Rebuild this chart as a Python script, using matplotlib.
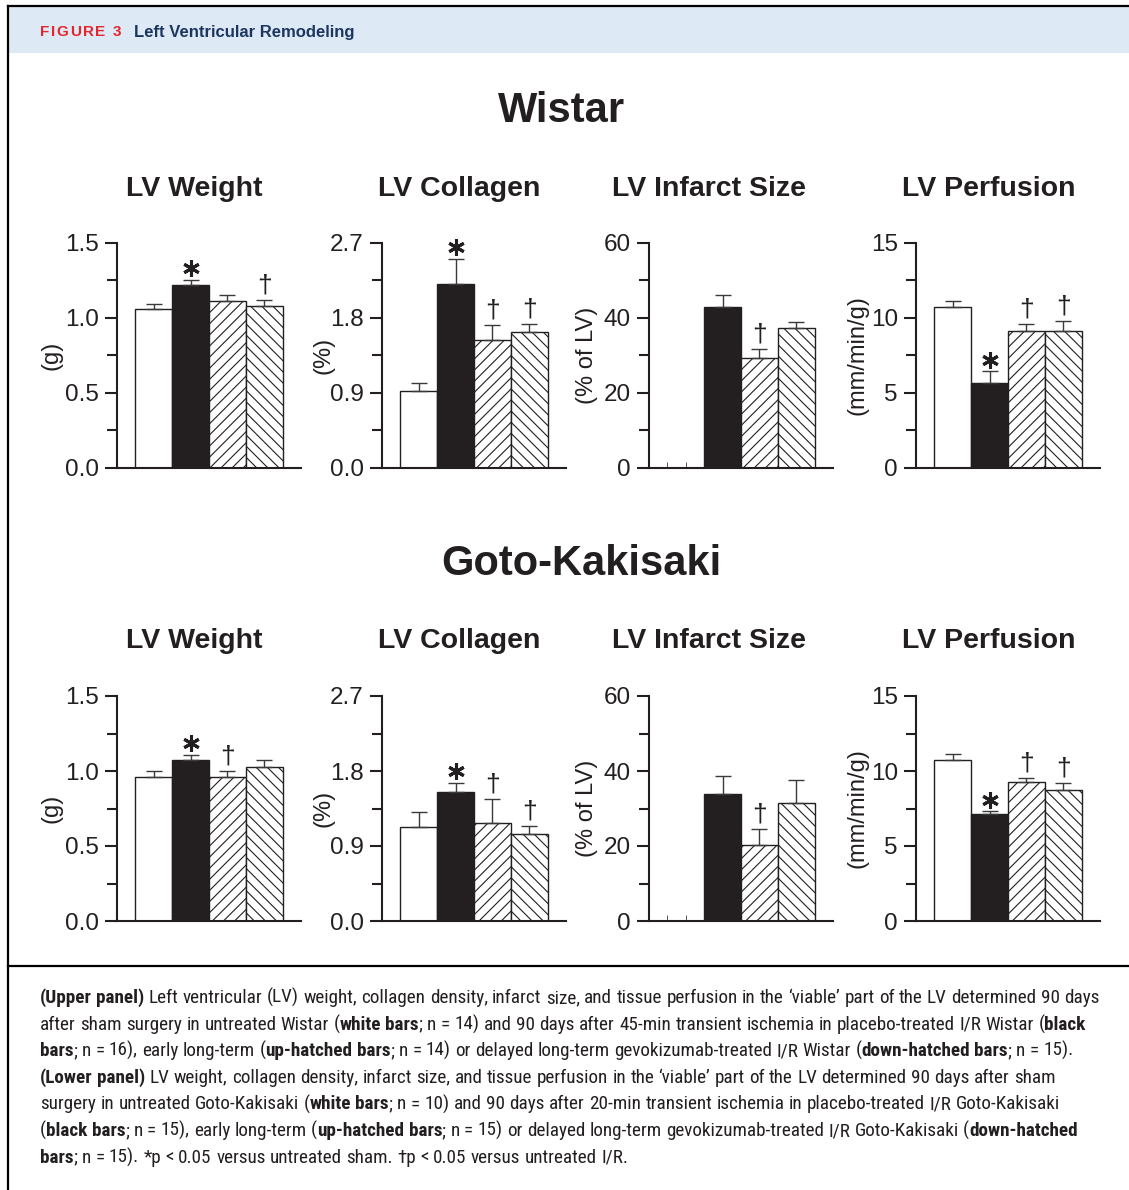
import numpy as np
import matplotlib
matplotlib.use("Agg")
import matplotlib.pyplot as plt
from matplotlib.transforms import ScaledTranslation
from matplotlib.lines import Line2D
from matplotlib.patches import Rectangle

# groups: sham, placebo I/R, early gevokizumab, delayed gevokizumab
groups = ["Sham", "I/R placebo", "I/R early", "I/R delayed"]
panels = ["LV Weight", "LV Collagen", "LV Infarct Size", "LV Perfusion"]
units = ["(g)", "(%)", "(% of LV)", "(mm/min/g)"]
strains = ["Wistar", "Goto-Kakisaki"]

yticks = [[0.0, 0.5, 1.0, 1.5], [0.0, 0.9, 1.8, 2.7], [0, 20, 40, 60], [0, 5, 10, 15]]
yticklabels = [["0.0", "0.5", "1.0", "1.5"], ["0.0", "0.9", "1.8", "2.7"],
               ["0", "20", "40", "60"], ["0", "5", "10", "15"]]

wistar_weight = [1.06, 1.22, 1.115, 1.08]
wistar_weight_err = [0.03, 0.035, 0.035, 0.04]
wistar_collagen = [0.92, 2.21, 1.53, 1.635]
wistar_collagen_err = [0.10, 0.30, 0.18, 0.09]
wistar_infarct = [np.nan, 42.8, 29.3, 37.3]
wistar_infarct_err = [np.nan, 3.3, 2.3, 1.7]
wistar_perfusion = [10.73, 5.67, 9.11, 9.11]
wistar_perfusion_err = [0.43, 0.78, 0.49, 0.71]
wistar_marks = [["", "*", "", "†"], ["", "*", "†", "†"], ["", "", "†", ""], ["", "*", "†", "†"]]

gk_weight = [0.958, 1.073, 0.958, 1.029]
gk_weight_err = [0.04, 0.035, 0.04, 0.045]
gk_collagen = [1.133, 1.544, 1.181, 1.045]
gk_collagen_err = [0.17, 0.115, 0.28, 0.10]
gk_infarct = [np.nan, 34.0, 20.2, 31.6]
gk_infarct_err = [np.nan, 4.8, 4.3, 5.9]
gk_perfusion = [10.72, 7.13, 9.24, 8.75]
gk_perfusion_err = [0.40, 0.18, 0.27, 0.45]
gk_marks = [["", "*", "†", ""], ["", "*", "†", "†"], ["", "", "†", ""], ["", "*", "†", "†"]]

values = [[wistar_weight, wistar_collagen, wistar_infarct, wistar_perfusion],
          [gk_weight, gk_collagen, gk_infarct, gk_perfusion]]
errors = [[wistar_weight_err, wistar_collagen_err, wistar_infarct_err, wistar_perfusion_err],
          [gk_weight_err, gk_collagen_err, gk_infarct_err, gk_perfusion_err]]
marks = [wistar_marks, gk_marks]

caption = [
    [("(Upper panel)", True), (" Left ventricular (LV) weight, collagen density, infarct size, and tissue perfusion in the \u2018viable\u2019 part of the LV determined 90 days", False)],
    [("after sham surgery in untreated Wistar (", False), ("white bars", True), ("; n = 14) and 90 days after 45-min transient ischemia in placebo-treated I/R Wistar (", False), ("black", True)],
    [("bars", True), ("; n = 16), early long-term (", False), ("up-hatched bars", True), ("; n = 14) or delayed long-term gevokizumab-treated I/R Wistar (", False), ("down-hatched bars", True), ("; n = 15).", False)],
    [("(Lower panel)", True), (" LV weight, collagen density, infarct size, and tissue perfusion in the \u2018viable\u2019 part of the LV determined 90 days after sham", False)],
    [("surgery in untreated Goto-Kakisaki (", False), ("white bars", True), ("; n = 10) and 90 days after 20-min transient ischemia in placebo-treated I/R Goto-Kakisaki", False)],
    [("(", False), ("black bars", True), ("; n = 15), early long-term (", False), ("up-hatched bars", True), ("; n = 15) or delayed long-term gevokizumab-treated I/R Goto-Kakisaki (", False), ("down-hatched", True)],
    [("bars", True), ("; n = 15). *p < 0.05 versus untreated sham. \u2020p < 0.05 versus untreated I/R.", False)],
]

INK = "#231f20"
W, H = 1129, 1190
plt.rcParams['font.family'] = ['Liberation Sans', 'DejaVu Sans']
plt.rcParams['hatch.linewidth'] = 0.8

fig = plt.figure(figsize=(W / 100, H / 100), dpi=100)
renderer = fig.canvas.get_renderer()


def fy(y):
    return 1 - y / H


# frame and header band
fig.add_artist(Rectangle((9 / W, fy(53)), 1, 46 / H, transform=fig.transFigure,
                         facecolor="#dde9f5", edgecolor="none"))
for xs, ys in [([8, W], [6, 6]), ([8, 8], [6, H]), ([8, W], [966, 966])]:
    fig.add_artist(Line2D([x / W for x in xs], [fy(y) for y in ys], color="black",
                          lw=1.6, transform=fig.transFigure))

x = 40
for ch in "FIGURE 3":
    if ch == " ":
        x += 6
        continue
    t = fig.text(x / W, fy(36.5), ch, fontsize=11, fontweight="bold", color="#e3262c", va="baseline")
    x = t.get_window_extent(renderer).x1 + 1.6
fig.text(134 / W, fy(37), "Left Ventricular Remodeling", fontsize=12, fontweight="bold",
         color="#1c3660", va="baseline")

# panels
spine_x = [117, 382, 649, 916]
row_bottom = [468, 921]
row_title = [(562, 111), (581, 564)]
panel_title_y = [189, 641]
title_x = [194, 459, 709, 989]
label_x = [52, 323, 587, 858]

faces = ["white", INK, "white", "white"]
hatches = [None, None, "///", "\\\\\\"]
xpos = np.arange(1, 5)

for r in range(2):
    fig.text(row_title[r][0] / W, fy(row_title[r][1]), strains[r], fontsize=30,
             fontweight="bold", color=INK, ha="center", va="center")
    for c in range(4):
        fig.text(title_x[c] / W, fy(panel_title_y[r]), panels[c], fontsize=20.5,
                 fontweight="bold", color=INK, ha="center", va="center")
        ax = fig.add_axes([spine_x[c] / W, fy(row_bottom[r]), 184 / W, 225 / H])
        vals = np.array(values[r][c], dtype=float)
        errs = np.array(errors[r][c], dtype=float)
        bars = ax.bar(xpos, vals, width=1, color=faces, edgecolor=INK, linewidth=1.0, zorder=2)
        for b, h in zip(bars, hatches):
            if h:
                b.set_hatch(h)
        ax.errorbar(xpos, vals, yerr=[np.zeros(4), errs], fmt="none", ecolor="#3a3a3a",
                    elinewidth=1.0, capsize=5.5, capthick=1.0, zorder=3)
        ax.set_xlim(0, 5)
        ax.set_ylim(yticks[c][0], yticks[c][-1])
        ax.set_yticks(yticks[c])
        ax.set_yticklabels(yticklabels[c])
        step = yticks[c][1] - yticks[c][0]
        ax.set_yticks([v + step / 2 for v in yticks[c][:-1]], minor=True)
        ax.set_xticks(np.arange(0.5, 4.6, 0.5))
        ax.tick_params(axis="x", direction="in", length=4, width=0.7, colors="#555555",
                       labelbottom=False)
        ax.tick_params(axis="y", which="major", direction="out", length=9, width=1.5,
                       labelsize=17.5, pad=4, colors=INK)
        ax.tick_params(axis="y", which="minor", direction="out", length=7, width=1.5, colors=INK)
        for s in ["top", "right"]:
            ax.spines[s].set_visible(False)
        for s in ["left", "bottom"]:
            ax.spines[s].set_linewidth(1.5)
            ax.spines[s].set_color(INK)
        ax.set_facecolor("none")

        tops = vals + errs
        for i, m in enumerate(marks[r][c]):
            if m == "*":
                off = ax.transData + ScaledTranslation(0, 11.5 / 100, fig.dpi_scale_trans)
                ax.plot([xpos[i]], [tops[i]], marker=(6, 2, 0), ms=12, mew=2.2, color=INK,
                        transform=off, clip_on=False, zorder=4)
            elif m == "†":
                off = ax.transData + ScaledTranslation(0, 2.5 / 100, fig.dpi_scale_trans)
                ax.text(xpos[i], tops[i], "\u2020", transform=off, ha="center", va="bottom",
                        fontsize=19, color=INK, clip_on=False)

        fig.text(label_x[c] / W, fy((row_bottom[r] - 225 + row_bottom[r]) / 2), units[c],
                 rotation=90, fontsize=17, color=INK, ha="center", va="center")

# caption with inline bold words
cap_family = ["Roboto Condensed", "Roboto", "DejaVu Sans"]


def lay_line(x0, y, parts, size, keep=True):
    x = x0
    made = []
    for seg, bold in parts:
        kw = dict(fontsize=size, fontweight="bold" if bold else "normal", fontstretch="condensed",
                  family=cap_family, color=INK, va="baseline", ha="left")
        a = fig.text(0, 0, "a a", **kw)
        b = fig.text(0, 0, "aa", **kw)
        sp = a.get_window_extent(renderer).width - b.get_window_extent(renderer).width
        a.remove()
        b.remove()
        for i, w in enumerate(seg.split(" ")):
            if i > 0:
                x += sp
            if w:
                t = fig.text(x / W, fy(y), w, **kw)
                x = t.get_window_extent(renderer).x1
                made.append(t)
    if not keep:
        for t in made:
            t.remove()
    return x


natural = lay_line(40, 1003, caption[0], 10, keep=False) - 40
cap_size = 10 * 1057 / natural
for k, parts in enumerate(caption):
    lay_line(40, 1003 + k * 26.6, parts, cap_size)

fig.savefig("out.png", dpi=100)
